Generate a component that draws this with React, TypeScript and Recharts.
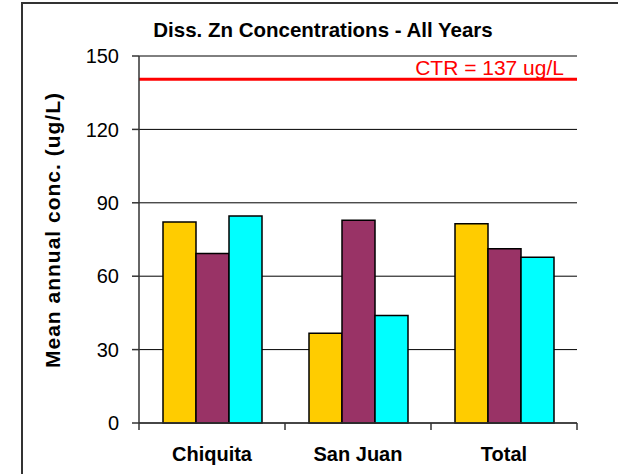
import React from 'react';
import {
  BarChart,
  Bar,
  XAxis,
  YAxis,
  CartesianGrid,
  ReferenceLine,
  Label,
} from 'recharts';

const categories = ['Chiquita', 'San Juan', 'Total'];
const yellowSeries = [82.2, 36.7, 81.4];
const purpleSeries = [69.3, 82.9, 71.2];
const cyanSeries = [84.6, 43.9, 67.7];
const yTicks = [0, 30, 60, 90, 120, 150];
const ctrLevel = 140.5;
const ctrText = 'CTR = 137 ug/L';
const chartTitle = 'Diss. Zn Concentrations - All Years';
const yTitle = 'Mean annual conc. (ug/L)';

const data = categories.map((name, i) => ({
  name,
  a: yellowSeries[i],
  b: purpleSeries[i],
  c: cyanSeries[i],
}));

const FONT = '"Liberation Sans", Arial, sans-serif';
const LABEL_GAP = 24;
const TICK_LEN = 7;

const CtrLabel = (props: any) => {
  const vb = props.viewBox || {};
  return (
    <text
      x={vb.x + vb.width - 13}
      y={vb.y - 4}
      textAnchor="end"
      fill="#ff0000"
      fontSize={21}
      fontFamily={FONT}
    >
      {ctrText}
    </text>
  );
};

// category label + tick marks on the band edges (Excel style)
const CategoryTick = (props: any) => {
  const { x, y, width, visibleTicksCount, index, payload } = props;
  const band = width / visibleTicksCount;
  const axisY = y - LABEL_GAP;
  const left = x - band / 2;
  const right = x + band / 2;
  return (
    <g>
      <line x1={left} x2={left} y1={axisY} y2={axisY + TICK_LEN} stroke="#333" strokeWidth={1.5} />
      {index === visibleTicksCount - 1 && (
        <line x1={right} x2={right} y1={axisY} y2={axisY + TICK_LEN} stroke="#333" strokeWidth={1.5} />
      )}
      <text
        x={x}
        y={y}
        dy="0.71em"
        textAnchor="middle"
        fill="#000"
        fontSize={20}
        fontWeight="bold"
        fontFamily={FONT}
      >
        {payload.value}
      </text>
    </g>
  );
};

const App = () => {
  return (
    <div
      style={{
        position: 'absolute',
        left: 0,
        top: 0,
        width: 618,
        height: 474,
        overflow: 'hidden',
        background: '#fff',
        fontFamily: FONT,
      }}
    >
      <div
        style={{
          position: 'absolute',
          left: 21,
          top: 2,
          width: 700,
          height: 600,
          border: '2px solid #333',
        }}
      />
      <div style={{ position: 'absolute', left: 0, top: 0 }}>
        <BarChart
          width={618}
          height={474}
          data={data}
          margin={{ top: 56, right: 41, bottom: 21, left: 79 }}
          barCategoryGap={24}
          barGap={0}
        >
          <CartesianGrid vertical={false} stroke="#000" strokeWidth={1} />
          <XAxis
            dataKey="name"
            tickLine={false}
            tickSize={0}
            tickMargin={LABEL_GAP}
            height={30}
            stroke="#333"
            strokeWidth={1.5}
            interval={0}
            tick={<CategoryTick />}
          />
          <YAxis
            domain={[0, 150]}
            ticks={yTicks}
            width={60}
            tickSize={7}
            tickMargin={13}
            stroke="#333"
            strokeWidth={1.5}
            tick={{ fill: '#000', fontSize: 20, fontFamily: FONT }}
          />
          <YAxis
            yAxisId="r"
            orientation="right"
            domain={[0, 150]}
            width={0}
            tick={false}
            tickLine={false}
            stroke="#333"
            strokeWidth={1.5}
          />
          <Bar dataKey="a" fill="#ffcc00" stroke="#000" strokeWidth={1.5} isAnimationActive={false} />
          <Bar dataKey="b" fill="#993366" stroke="#000" strokeWidth={1.5} isAnimationActive={false} />
          <Bar dataKey="c" fill="#00ffff" stroke="#000" strokeWidth={1.5} isAnimationActive={false} />
          <ReferenceLine y={ctrLevel} stroke="#ff0000" strokeWidth={3}>
            <Label content={CtrLabel} />
          </ReferenceLine>
        </BarChart>
      </div>
      <svg
        width={618}
        height={474}
        style={{ position: 'absolute', left: 0, top: 0, pointerEvents: 'none' }}
      >
        <text
          x={323}
          y={37}
          textAnchor="middle"
          fontSize={20.5}
          fontWeight="bold"
          fontFamily={FONT}
          fill="#000"
        >
          {chartTitle}
        </text>
        <text
          transform="translate(60,230) rotate(-90)"
          textAnchor="middle"
          fontSize={21}
          fontWeight="bold"
          letterSpacing={1}
          fontFamily={FONT}
          fill="#000"
        >
          {yTitle}
        </text>
      </svg>
    </div>
  );
};

export default App;
